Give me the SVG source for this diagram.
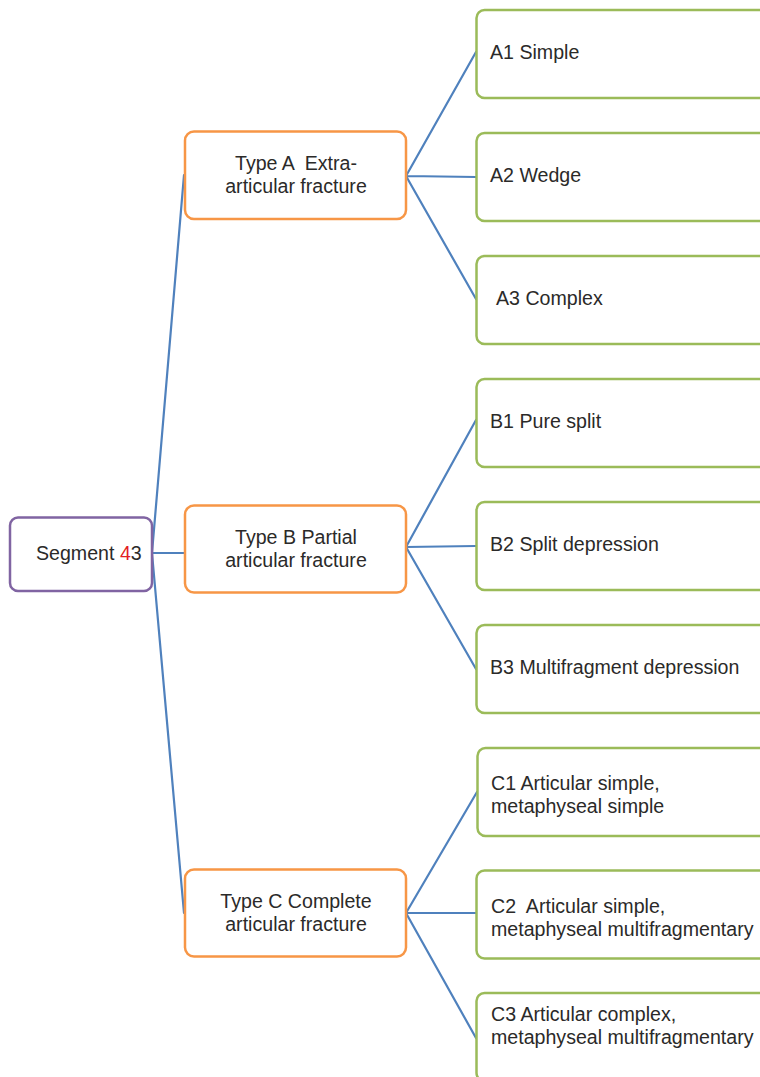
<svg xmlns="http://www.w3.org/2000/svg" width="760" height="1077" viewBox="0 0 760 1077">
  <style>
    text { font-family: "Liberation Sans", Arial, sans-serif; font-size: 19.6px; fill: #2b2a29; white-space: pre; }
    .root { fill: #ffffff; stroke: #8064a2; stroke-width: 2.5; }
    .type { fill: #ffffff; stroke: #f79646; stroke-width: 2.5; }
    .leaf { fill: #ffffff; stroke: #9bbb59; stroke-width: 2.5; }
    .link { fill: none; stroke: #4f81bd; stroke-width: 2.2; stroke-linecap: round; }
    .mid { text-anchor: middle; }
  </style>
  <rect width="760" height="1077" fill="#ffffff"/>

  <!-- connectors -->
  <g id="connectors">
    <path class="link" d="M152,553 L184,175 M152,553 L185,553 M152,553 L184,913"/>
    <path class="link" d="M406,176 L476,52 M406,176 L476,177 M406,176 L476,299"/>
    <path class="link" d="M406,547 L476,420 M406,547 L476,546 M406,547 L476,669"/>
    <path class="link" d="M406,913 L477,792 M406,913 L476,913 M406,913 L476,1038"/>
  </g>

  <!-- root -->
  <g id="segment43">
    <rect class="root" x="10" y="517.5" width="142" height="73.5" rx="8"/>
    <text x="36" y="560">Segment <tspan fill="#e31e24">4</tspan>3</text>
  </g>

  <!-- fracture types -->
  <g id="typeA">
    <rect class="type" x="185" y="131.5" width="221" height="87.5" rx="9"/>
    <text class="mid" x="296" y="170" xml:space="preserve">Type A  Extra-</text>
    <text class="mid" x="296" y="193">articular fracture</text>
  </g>
  <g id="typeB">
    <rect class="type" x="185" y="505.5" width="221" height="87" rx="9"/>
    <text class="mid" x="296" y="544">Type B Partial</text>
    <text class="mid" x="296" y="567">articular fracture</text>
  </g>
  <g id="typeC">
    <rect class="type" x="185" y="869.5" width="221" height="87" rx="9"/>
    <text class="mid" x="296" y="908">Type C Complete</text>
    <text class="mid" x="296" y="931">articular fracture</text>
  </g>

  <!-- groups -->
  <g id="A1">
    <rect class="leaf" x="476.5" y="10" width="300" height="88" rx="8"/>
    <text x="490" y="59">A1 Simple</text>
  </g>
  <g id="A2">
    <rect class="leaf" x="476.5" y="133" width="300" height="88" rx="8"/>
    <text x="490" y="182">A2 Wedge</text>
  </g>
  <g id="A3">
    <rect class="leaf" x="476.5" y="256" width="300" height="88" rx="8"/>
    <text x="496" y="305">A3 Complex</text>
  </g>
  <g id="B1">
    <rect class="leaf" x="476.5" y="379" width="300" height="88" rx="8"/>
    <text x="490" y="428">B1 Pure split</text>
  </g>
  <g id="B2">
    <rect class="leaf" x="476.5" y="502" width="300" height="88" rx="8"/>
    <text x="490" y="551">B2 Split depression</text>
  </g>
  <g id="B3">
    <rect class="leaf" x="476.5" y="625" width="300" height="88" rx="8"/>
    <text x="490" y="674">B3 Multifragment depression</text>
  </g>
  <g id="C1">
    <rect class="leaf" x="477.5" y="748" width="300" height="88" rx="8"/>
    <text x="491" y="790">C1 Articular simple,</text>
    <text x="491" y="813">metaphyseal simple</text>
  </g>
  <g id="C2">
    <rect class="leaf" x="476.5" y="870.5" width="300" height="88" rx="8"/>
    <text x="491" y="913" xml:space="preserve">C2  Articular simple,</text>
    <text x="491" y="936">metaphyseal multifragmentary</text>
  </g>
  <g id="C3">
    <rect class="leaf" x="476.5" y="993" width="300" height="88" rx="8"/>
    <text x="491" y="1021">C3 Articular complex,</text>
    <text x="491" y="1044">metaphyseal multifragmentary</text>
  </g>
</svg>
